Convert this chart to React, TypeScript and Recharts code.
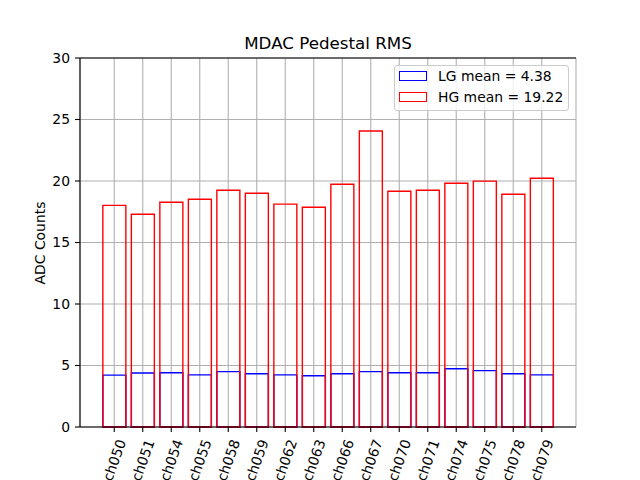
import React from 'react';
import {
  ComposedChart,
  Bar,
  XAxis,
  YAxis,
  CartesianGrid,
  ReferenceLine,
  Legend,
} from 'recharts';

const channels = [
  'ch050', 'ch051', 'ch054', 'ch055', 'ch058', 'ch059', 'ch062', 'ch063',
  'ch066', 'ch067', 'ch070', 'ch071', 'ch074', 'ch075', 'ch078', 'ch079',
];
const lgValues = [
  4.22, 4.39, 4.41, 4.24, 4.5, 4.33, 4.24, 4.17,
  4.33, 4.5, 4.41, 4.41, 4.74, 4.58, 4.33, 4.24,
];
const hgValues = [
  18.02, 17.3, 18.27, 18.52, 19.25, 19.01, 18.12, 17.87,
  19.74, 24.06, 19.17, 19.25, 19.82, 19.99, 18.92, 20.22,
];
const yTicks = [0, 5, 10, 15, 20, 25, 30];
const legendItems = [
  { label: 'LG mean = 4.38', color: '#0000ff' },
  { label: 'HG mean = 19.22', color: '#ff0000' },
];
const title = 'MDAC Pedestal RMS';
const yLabel = 'ADC Counts';

const data = channels.map((ch, i) => ({ ch, lg: lgValues[i], hg: hgValues[i] }));

const FONT = '"DejaVu Sans", sans-serif';

const XTick = (props: any) => {
  const { x, y, payload } = props;
  const px = x + 7.4;
  const py = y + 6;
  return (
    <text
      x={px}
      y={py}
      textAnchor="end"
      dominantBaseline="central"
      transform={`rotate(-70 ${px} ${py})`}
      fontFamily={FONT}
      fontSize={13.9}
      fill="#000"
    >
      {payload.value}
    </text>
  );
};

const LegendBox = () => (
  <div
    style={{
      position: 'relative',
      width: 175,
      height: 46,
      boxSizing: 'border-box',
      border: '1px solid #cccccc',
      borderRadius: 3,
      background: 'rgba(255,255,255,0.8)',
      fontFamily: FONT,
      fontSize: 13.9,
      color: '#000',
    }}
  >
    {legendItems.map((it, i) => (
      <React.Fragment key={it.label}>
        <div
          style={{
            position: 'absolute',
            left: 4,
            top: 5 + i * 21,
            width: 28,
            height: 10,
            boxSizing: 'border-box',
            border: `1.4px solid ${it.color}`,
            background: '#fff',
          }}
        />
        <div
          style={{
            position: 'absolute',
            left: 43,
            top: 1 + i * 21,
            lineHeight: '18px',
            whiteSpace: 'nowrap',
          }}
        >
          {it.label}
        </div>
      </React.Fragment>
    ))}
  </div>
);

export default function App() {
  return (
    <div style={{ position: 'absolute', left: 0, top: 0, width: 640, height: 480, background: '#fff' }}>
      <ComposedChart
        width={640}
        height={480}
        data={data}
        margin={{ top: 58, right: 64, bottom: 0, left: 0 }}
        barCategoryGap="10%"
      >
        <CartesianGrid stroke="#b0b0b0" strokeWidth={1.1} />
        <XAxis
          dataKey="ch"
          height={53}
          padding={{ left: 20, right: 20 }}
          stroke="#000"
          strokeWidth={1.1}
          tickSize={5}
          tick={<XTick />}
          interval={0}
        />
        <XAxis dataKey="ch" xAxisId="lg" hide padding={{ left: 20, right: 20 }} />
        <YAxis
          width={80}
          domain={[0, 30]}
          ticks={yTicks}
          stroke="#000"
          strokeWidth={1.1}
          tickSize={5}
          tickMargin={5}
          tick={{ fill: '#000', fontSize: 13.9, fontFamily: FONT }}
          label={{
            content: () => (
              <text
                x={45}
                y={243}
                transform="rotate(-90 45 243)"
                textAnchor="middle"
                fontFamily={FONT}
                fontSize={13.9}
                fill="#000"
              >
                {yLabel}
              </text>
            ),
          }}
        />
        <YAxis
          yAxisId="r"
          orientation="right"
          width={0}
          domain={[0, 30]}
          tick={false}
          tickLine={false}
          stroke="#000"
          strokeWidth={1.1}
        />
        <ReferenceLine y={30} stroke="#000" strokeWidth={1.1} />
        <Bar
          dataKey="lg"
          xAxisId="lg"
          fill="none"
          stroke="#0000ff"
          strokeWidth={1.4}
          isAnimationActive={false}
        />
        <Bar
          dataKey="hg"
          fill="none"
          stroke="#ff0000"
          strokeWidth={1.4}
          isAnimationActive={false}
        />
        <Legend
          layout="vertical"
          align="center"
          verticalAlign="middle"
          wrapperStyle={{ position: 'absolute', left: 394, top: 65, width: 175, height: 46 }}
          content={() => <LegendBox />}
        />
        <text
          x={328}
          y={49}
          textAnchor="middle"
          fontFamily={FONT}
          fontSize={16.7}
          fill="#000"
        >
          {title}
        </text>
      </ComposedChart>
    </div>
  );
}
